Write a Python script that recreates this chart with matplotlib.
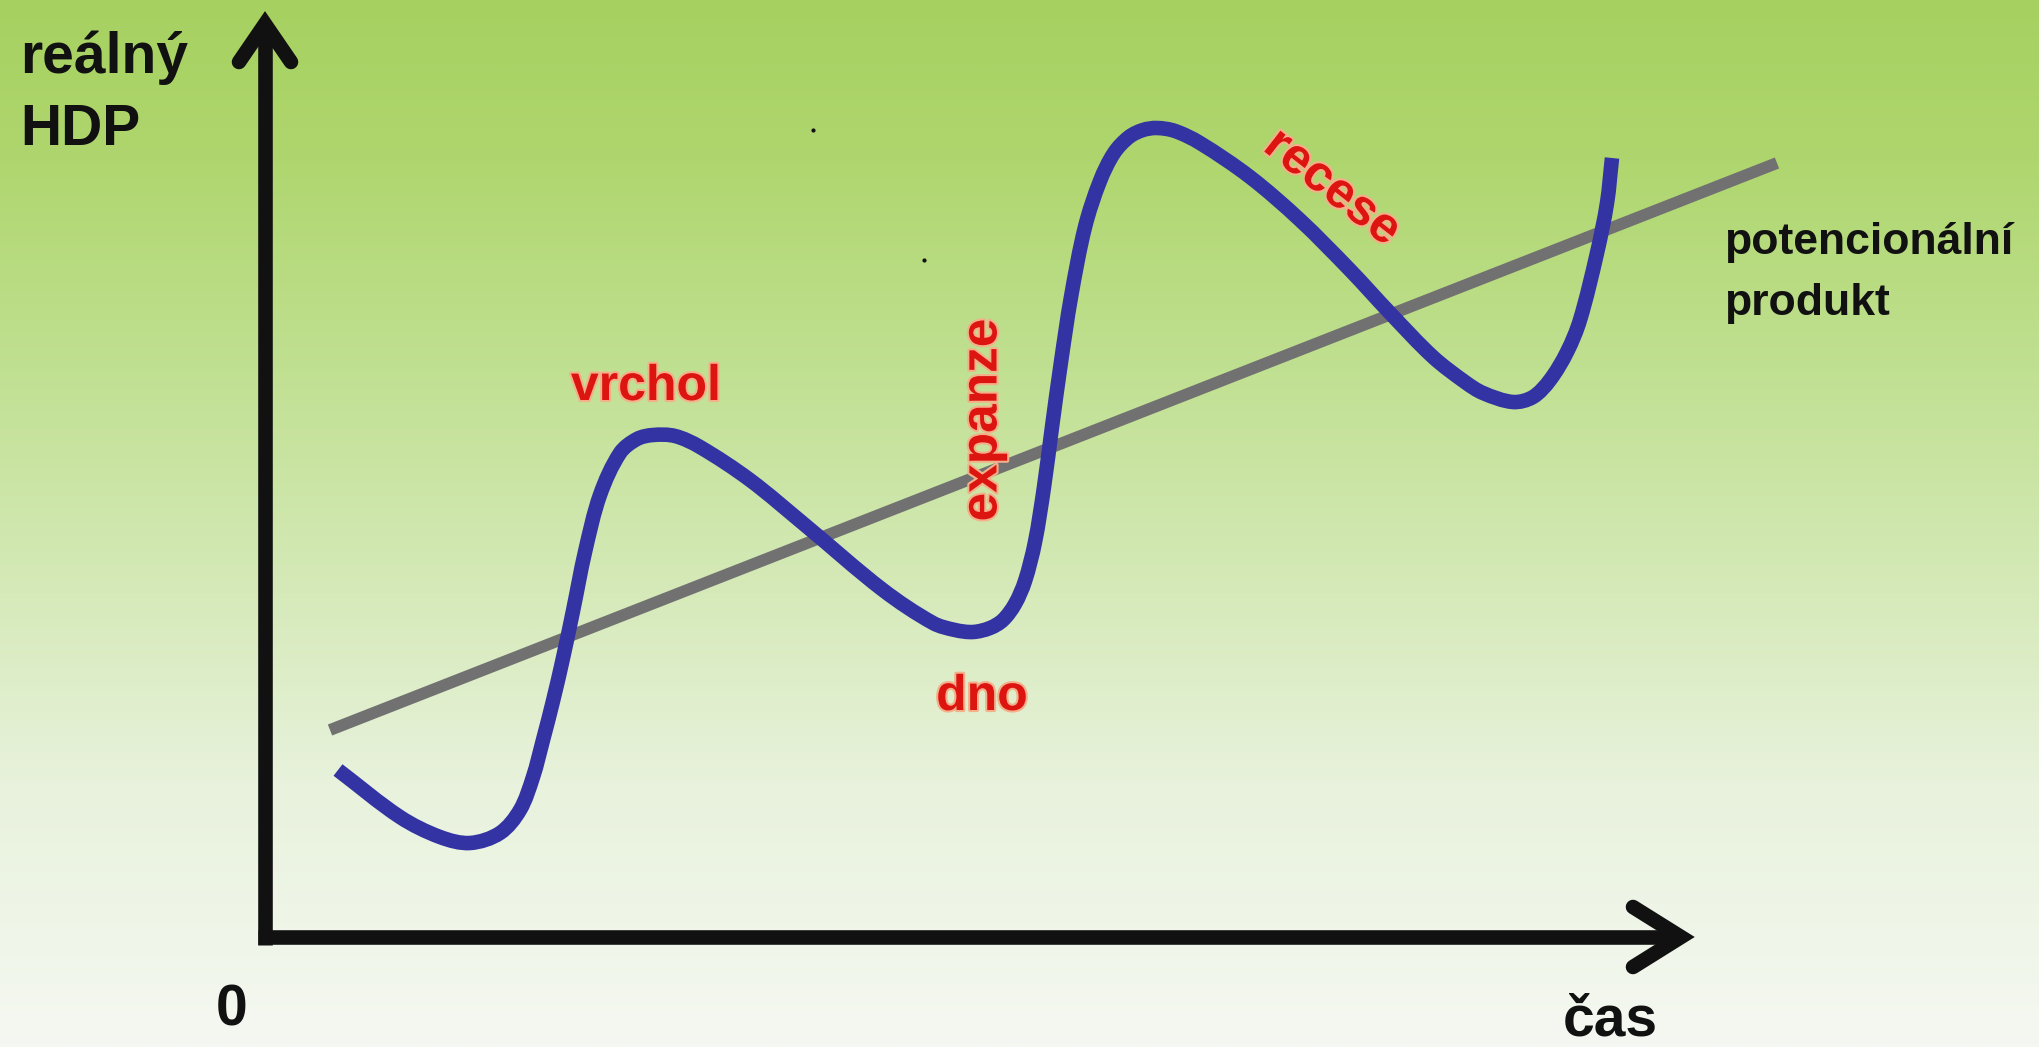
import numpy as np
import matplotlib
matplotlib.use("Agg")
import matplotlib.pyplot as plt
import matplotlib.patheffects as pe
from matplotlib.colors import LinearSegmentedColormap
from matplotlib.path import Path
from matplotlib.patches import PathPatch

cycle_t = [7.3, 13.5, 17.5, 20.5, 23.5, 25.5, 26.8, 27.8, 28.8, 29.8, 30.8, 32.0, 33.5,
           35.5, 37.2, 38.8, 41.0, 43.5, 48.5, 54.0, 61.8, 66.8, 69.0, 70.8, 72.5,
           73.8, 75.0, 76.0, 77.0, 77.9, 78.7, 79.6, 80.6, 82.0, 83.5, 84.9, 86.4,
           87.8, 89.2, 91.0, 93.5, 98.5, 103.5, 108.5, 112.5, 116.8, 120.0, 121.8, 124.8,
           126.8, 128.5, 130.2, 131.5, 133.2, 134.2, 134.7]
cycle_gdp = [16.7, 12.0, 10.0, 9.4, 10.4, 12.7, 16.0, 19.7, 23.6, 27.9, 32.6, 38.5, 44.2,
             48.4, 49.8, 50.2, 50.1, 49.0, 45.7, 41.2, 34.7, 31.4, 30.7, 30.5, 30.9,
             31.7, 33.3, 35.6, 39.5, 45.0, 51.0, 57.5, 64.0, 71.0, 75.6, 78.4, 80.0,
             80.7, 80.9, 80.6, 79.4, 76.0, 71.7, 66.7, 62.4, 58.0, 55.5, 54.4, 53.5,
             54.0, 55.7, 58.5, 61.7, 68.4, 73.4, 77.9]

# potential output (trend)
trend_t = [6.5, 151.2]
trend_gdp = [20.7, 77.4]

# background gradient stops (top -> bottom)
bg_pos = [0.0, 0.15, 0.35, 0.55, 0.75, 1.0]
bg_rgb = [(166, 209, 96), (175, 214, 110), (192, 224, 145),
          (212, 233, 182), (232, 242, 220), (245, 248, 242)]

# stray dots in the scan
dots_t = [54.8, 65.9]
dots_gdp = [80.7, 67.7]


def smooth_path(xs, ys):
    # cubic Bezier segments through the read points, chord-scaled tangents
    p = np.column_stack([xs, ys]).astype(float)
    d = np.hypot(*np.diff(p, axis=0).T)
    tang = np.zeros_like(p)
    tang[1:-1] = (p[2:] - p[:-2]) / (d[:-1] + d[1:])[:, None]
    tang[0] = (p[1] - p[0]) / d[0]
    tang[-1] = (p[-1] - p[-2]) / d[-1]
    verts = [p[0]]
    codes = [Path.MOVETO]
    for i in range(len(p) - 1):
        verts += [p[i] + tang[i] * d[i] / 3, p[i + 1] - tang[i + 1] * d[i] / 3, p[i + 1]]
        codes += [Path.CURVE4] * 3
    return Path(verts, codes)


fig = plt.figure(figsize=(20.4, 10.47), dpi=100)
ax = fig.add_axes([0, 0, 1, 1])
xmin, xmax = -26.5, 177.5
ymin, ymax = -11.0, 93.7
ax.set_xlim(xmin, xmax)
ax.set_ylim(ymin, ymax)
ax.axis("off")

cmap = LinearSegmentedColormap.from_list(
    "bg", [(p, tuple(c / 255 for c in rgb)) for p, rgb in zip(bg_pos, bg_rgb)])
grad = np.linspace(0, 1, 512).reshape(-1, 1)
ax.imshow(grad, cmap=cmap, aspect="auto", extent=[xmin, xmax, ymin, ymax],
          origin="upper", zorder=0)

black = "#111111"
axis_lw = 10.5
# axes with chevron arrow heads
y_top = 91.3
x_end = 141.6
ax.plot([0, 0], [-0.8, y_top], color=black, lw=axis_lw, solid_capstyle="butt", zorder=3)
ax.plot([-0.7, x_end], [0, 0], color=black, lw=axis_lw, solid_capstyle="butt", zorder=3)
ax.plot([-2.6, 0, 2.6], [y_top - 3.8, y_top, y_top - 3.8], color=black, lw=axis_lw,
        solid_capstyle="round", solid_joinstyle="miter", zorder=3)
ax.plot([x_end - 4.8, x_end, x_end - 4.8], [3.0, 0, -3.0], color=black, lw=axis_lw,
        solid_capstyle="round", solid_joinstyle="miter", zorder=3)

ax.plot(trend_t, trend_gdp, color="#717171", lw=8.5, solid_capstyle="butt", zorder=2)
ax.add_patch(PathPatch(smooth_path(cycle_t, cycle_gdp), fill=False, edgecolor="#3333a3",
                       lw=10.5, capstyle="butt", joinstyle="round", zorder=4))
ax.scatter(dots_t, dots_gdp, s=4, color=black, zorder=1)

font = "Liberation Sans"
ax.text(-24.5, 86.4, "reálný", fontsize=41, fontweight="bold", family=font,
        color=black, ha="left", va="baseline")
ax.text(-24.5, 79.2, "HDP", fontsize=41, fontweight="bold", family=font,
        color=black, ha="left", va="baseline")
ax.text(-3.3, -8.8, "0", fontsize=41, fontweight="bold", family=font,
        color=black, ha="center", va="baseline")
ax.text(129.8, -9.8, "čas", fontsize=41, fontweight="bold", family=font,
        color=black, ha="left", va="baseline")
ax.text(145.9, 68.3, "potencionální", fontsize=32, fontweight="bold", family=font,
        color=black, ha="left", va="baseline")
ax.text(145.9, 62.2, "produkt", fontsize=32, fontweight="bold", family=font,
        color=black, ha="left", va="baseline")

red = "#dd1510"
halo = [pe.withStroke(linewidth=3, foreground="#f4b08a")]
ax.text(38.1, 53.7, "vrchol", fontsize=36, fontweight="bold", family=font, color=red,
        ha="center", va="baseline", path_effects=halo, zorder=5)
ax.text(71.7, 22.7, "dno", fontsize=36, fontweight="bold", family=font, color=red,
        ha="center", va="baseline", path_effects=halo, zorder=5)
ax.text(71.8, 51.7, "expanze", fontsize=37, fontweight="bold", family=font, color=red,
        ha="center", va="center", rotation=90, rotation_mode="anchor",
        path_effects=halo, zorder=5)
ax.text(106.7, 74.9, "recese", fontsize=36, fontweight="bold", family=font, color=red,
        ha="center", va="center", rotation=-38, rotation_mode="anchor",
        path_effects=halo, zorder=5)

fig.savefig("out.png", dpi=100)
